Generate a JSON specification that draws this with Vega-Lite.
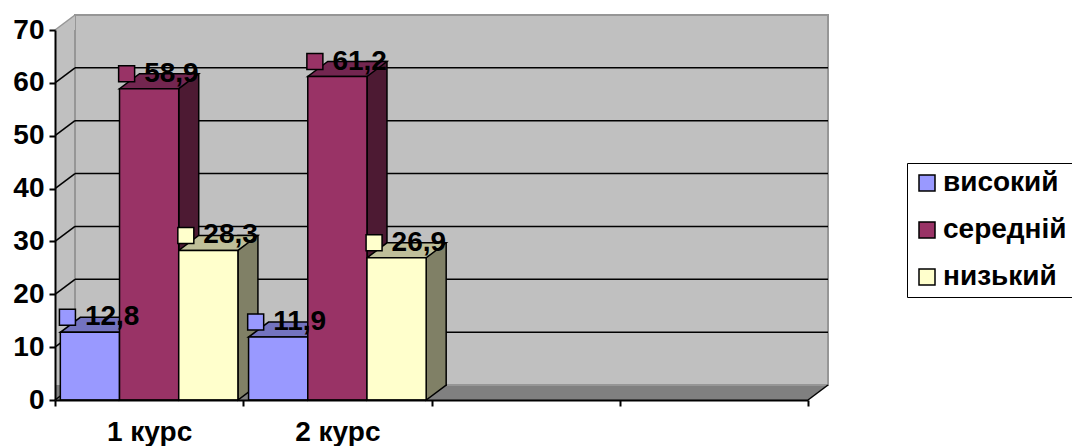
{
  "$schema": "https://vega.github.io/schema/vega-lite/v6.json",
  "width": 753,
  "height": 370,
  "autosize": {"type": "none"},
  "padding": {"left": 55, "top": 30, "right": 264, "bottom": 46},
  "background": "white",
  "config": {
    "view": {"fill": "#C0C0C0", "stroke": null},
    "font": "Liberation Sans",
    "locale": {"number": {"decimal": ",", "thousands": " ", "grouping": [3], "currency": ["", ""]}}
  },
  "datasets": {
    "scores": [
      {"course": "1 курс", "level": "високий", "value": 12.8},
      {"course": "1 курс", "level": "середній", "value": 58.9},
      {"course": "1 курс", "level": "низький", "value": 28.3},
      {"course": "2 курс", "level": "високий", "value": 11.9},
      {"course": "2 курс", "level": "середній", "value": 61.2},
      {"course": "2 курс", "level": "низький", "value": 26.9}
    ],
    "grid": [{"v": 10}, {"v": 20}, {"v": 30}, {"v": 40}, {"v": 50}, {"v": 60}],
    "edges": [{"v": 0}, {"v": 10}, {"v": 20}, {"v": 30}, {"v": 40}, {"v": 50}, {"v": 60}],
    "frame": [{"v": 0}]
  },
  "layer": [
    {
      "data": {"name": "frame"},
      "mark": {"type": "rect", "fill": "#808080", "yOffset": -15},
      "encoding": {
        "x": {"value": 0},
        "x2": {"value": "width"},
        "y": {"datum": 0, "type": "quantitative", "scale": {"domain": [0, 70], "nice": false}, "axis": null},
        "y2": {"datum": 0}
      }
    },
    {
      "data": {"name": "frame"},
      "mark": {"type": "point", "filled": true, "opacity": 1, "size": 4, "fill": "#808080", "strokeWidth": 0,
               "shape": "M0,0 L20,-15 L0,-15 Z"},
      "encoding": {
        "x": {"value": "width"},
        "y": {"datum": 0, "type": "quantitative", "scale": {"domain": [0, 70], "nice": false}, "axis": null}
      }
    },
    {
      "data": {"name": "frame"},
      "mark": {"type": "rect", "fill": "#C0C0C0", "stroke": "#969696", "strokeWidth": 2,
               "xOffset": 20, "x2Offset": 20, "yOffset": -15, "y2Offset": -15},
      "encoding": {
        "x": {"value": 0},
        "x2": {"value": "width"},
        "y": {"datum": 0, "type": "quantitative", "scale": {"domain": [0, 70], "nice": false}, "axis": null},
        "y2": {"datum": 70}
      }
    },
    {
      "data": {"name": "frame"},
      "mark": {"type": "point", "filled": true, "opacity": 1, "size": 4, "fill": "#C0C0C0", "strokeWidth": 0,
               "shape": "M0,0 L20,-15 L20,0 Z"},
      "encoding": {
        "x": {"value": 0},
        "y": {"datum": 70, "type": "quantitative", "scale": {"domain": [0, 70], "nice": false}, "axis": null}
      }
    },
    {
      "data": {"name": "grid"},
      "mark": {"type": "rule", "color": "black", "strokeWidth": 1.5, "xOffset": 20, "x2Offset": 20, "yOffset": -15},
      "encoding": {
        "x": {"value": 0},
        "x2": {"value": "width"},
        "y": {"field": "v", "type": "quantitative", "scale": {"domain": [0, 70], "nice": false}, "axis": null}
      }
    },
    {
      "data": {"name": "edges"},
      "mark": {"type": "rule", "color": "black", "strokeWidth": 1.5, "x2Offset": 20, "y2Offset": -15},
      "encoding": {
        "x": {"value": 0},
        "x2": {"value": 0},
        "y": {"field": "v", "type": "quantitative", "scale": {"domain": [0, 70], "nice": false}, "axis": null},
        "y2": {"field": "v"}
      }
    },
    {
      "data": {"name": "frame"},
      "mark": {"type": "rule", "color": "#969696", "strokeWidth": 1.5, "x2Offset": 20, "y2Offset": -15},
      "encoding": {
        "x": {"value": 0},
        "x2": {"value": 0},
        "y": {"datum": 70, "type": "quantitative", "scale": {"domain": [0, 70], "nice": false}, "axis": null},
        "y2": {"datum": 70}
      }
    },
    {
      "data": {"name": "frame"},
      "mark": {"type": "rule", "color": "black", "strokeWidth": 1.5, "x2Offset": 20, "y2Offset": -15},
      "encoding": {
        "x": {"value": "width"},
        "x2": {"value": "width"},
        "y": {"datum": 0, "type": "quantitative", "scale": {"domain": [0, 70], "nice": false}, "axis": null},
        "y2": {"datum": 0}
      }
    },
    {
      "data": {"name": "scores"},
      "mark": {"type": "bar", "width": 20, "yOffset": -15, "y2Offset": -15, "stroke": "black", "strokeWidth": 1.5},
      "encoding": {
        "x": {"field": "course", "type": "nominal", "axis": null,
              "scale": {"domain": ["1 курс", "2 курс", " ", "  "], "paddingInner": 0, "paddingOuter": 0}},
        "xOffset": {"field": "level", "type": "nominal",
                    "scale": {"type": "band", "domain": ["високий", "середній", "низький"], "paddingInner": 0, "paddingOuter": 0.09, "range": [39.6, 227.85]}},
        "y": {"field": "value", "type": "quantitative", "stack": null, "axis": null, "scale": {"domain": [0, 70], "nice": false}},
        "y2": {"datum": 0},
        "fill": {"field": "level", "type": "nominal", "legend": null,
                 "scale": {"domain": ["високий", "середній", "низький"], "range": ["#4D4D80", "#4D1A33", "#808066"]}}
      }
    },
    {
      "data": {"name": "scores"},
      "mark": {"type": "point", "filled": true, "opacity": 1, "size": 4, "stroke": "black", "strokeWidth": 1.5,
               "shape": "M29.6,-16 L29.6,0 L49.6,-15 L49.6,-16"},
      "encoding": {
        "x": {"field": "course", "type": "nominal", "axis": null,
              "scale": {"domain": ["1 курс", "2 курс", " ", "  "], "paddingInner": 0, "paddingOuter": 0}},
        "xOffset": {"field": "level", "type": "nominal",
                    "scale": {"type": "band", "domain": ["високий", "середній", "низький"], "paddingInner": 0, "paddingOuter": 0.09}},
        "y": {"datum": 0, "type": "quantitative", "axis": null, "scale": {"domain": [0, 70], "nice": false}},
        "fill": {"field": "level", "type": "nominal", "legend": null,
                 "scale": {"domain": ["високий", "середній", "низький"], "range": ["#4D4D80", "#4D1A33", "#808066"]}}
      }
    },
    {
      "data": {"name": "scores"},
      "mark": {"type": "point", "filled": true, "opacity": 1, "size": 4, "stroke": "black", "strokeWidth": 1.5,
               "shape": "M-29.6,0 L29.6,0 L49.6,-15 L-9.6,-15 Z"},
      "encoding": {
        "x": {"field": "course", "type": "nominal", "axis": null,
              "scale": {"domain": ["1 курс", "2 курс", " ", "  "], "paddingInner": 0, "paddingOuter": 0}},
        "xOffset": {"field": "level", "type": "nominal",
                    "scale": {"type": "band", "domain": ["високий", "середній", "низький"], "paddingInner": 0, "paddingOuter": 0.09}},
        "y": {"field": "value", "type": "quantitative", "stack": null, "axis": null, "scale": {"domain": [0, 70], "nice": false}},
        "fill": {"field": "level", "type": "nominal", "legend": null,
                 "scale": {"domain": ["високий", "середній", "низький"], "range": ["#7373BF", "#732650", "#BFBF99"]}}
      }
    },
    {
      "data": {"name": "scores"},
      "mark": {"type": "bar", "stroke": "black", "strokeWidth": 1.5},
      "encoding": {
        "x": {"field": "course", "type": "nominal", "title": null,
              "scale": {"domain": ["1 курс", "2 курс", " ", "  "], "paddingInner": 0, "paddingOuter": 0},
              "axis": {"tickBand": "extent", "labelAngle": 0, "labelFontSize": 28, "labelFontWeight": "bold", "labelColor": "black",
                       "labelPadding": 12, "domainColor": "black", "domainWidth": 2, "tickColor": "black", "tickWidth": 2,
                       "tickSize": 6, "zindex": 1}},
        "xOffset": {"field": "level", "type": "nominal",
                    "scale": {"type": "band", "domain": ["високий", "середній", "низький"], "paddingInner": 0, "paddingOuter": 0.09}},
        "y": {"field": "value", "type": "quantitative", "stack": null, "title": null,
              "scale": {"domain": [0, 70], "nice": false},
              "axis": {"values": [0, 10, 20, 30, 40, 50, 60, 70], "grid": false, "labelFontSize": 28, "labelFontWeight": "bold",
                       "labelColor": "black", "labelPadding": 5, "domainColor": "black", "domainWidth": 2, "tickColor": "black",
                       "tickWidth": 2, "tickSize": 6, "zindex": 1}},
        "color": {"field": "level", "type": "nominal",
                  "scale": {"domain": ["високий", "середній", "низький"], "range": ["#9999FF", "#993366", "#FFFFCC"]},
                  "legend": {"title": null, "orient": "none", "legendX": 852, "legendY": 133, "strokeColor": "black",
                             "padding": 6, "rowPadding": 19, "labelOffset": 2, "symbolType": "square", "symbolSize": 256,
                             "symbolStrokeColor": "black", "symbolStrokeWidth": 1.5, "symbolOpacity": 1,
                             "labelFontSize": 28, "labelFontWeight": "bold", "labelColor": "black"}}
      }
    },
    {
      "data": {"name": "scores"},
      "mark": {"type": "point", "filled": true, "opacity": 1, "size": 4, "stroke": "black", "strokeWidth": 1.5,
               "shape": "M-30.5,-23 L-14.5,-23 L-14.5,-7 L-30.5,-7 Z"},
      "encoding": {
        "x": {"field": "course", "type": "nominal", "axis": null,
              "scale": {"domain": ["1 курс", "2 курс", " ", "  "], "paddingInner": 0, "paddingOuter": 0}},
        "xOffset": {"field": "level", "type": "nominal",
                    "scale": {"type": "band", "domain": ["високий", "середній", "низький"], "paddingInner": 0, "paddingOuter": 0.09}},
        "y": {"field": "value", "type": "quantitative", "stack": null, "axis": null, "scale": {"domain": [0, 70], "nice": false}},
        "color": {"field": "level", "type": "nominal", "legend": null}
      }
    },
    {
      "data": {"name": "scores"},
      "mark": {"type": "text", "align": "left", "baseline": "middle", "dx": -5, "dy": -15, "fontSize": 28, "fontWeight": "bold", "color": "black"},
      "encoding": {
        "x": {"field": "course", "type": "nominal", "axis": null,
              "scale": {"domain": ["1 курс", "2 курс", " ", "  "], "paddingInner": 0, "paddingOuter": 0}},
        "xOffset": {"field": "level", "type": "nominal",
                    "scale": {"type": "band", "domain": ["високий", "середній", "низький"], "paddingInner": 0, "paddingOuter": 0.09}},
        "y": {"field": "value", "type": "quantitative", "stack": null, "axis": null, "scale": {"domain": [0, 70], "nice": false}},
        "text": {"field": "value", "type": "quantitative", "format": ".1f"}
      }
    }
  ],
  "resolve": {
    "scale": {"xOffset": "independent", "fill": "independent"},
    "axis": {"x": "independent", "y": "independent"}
  }
}
